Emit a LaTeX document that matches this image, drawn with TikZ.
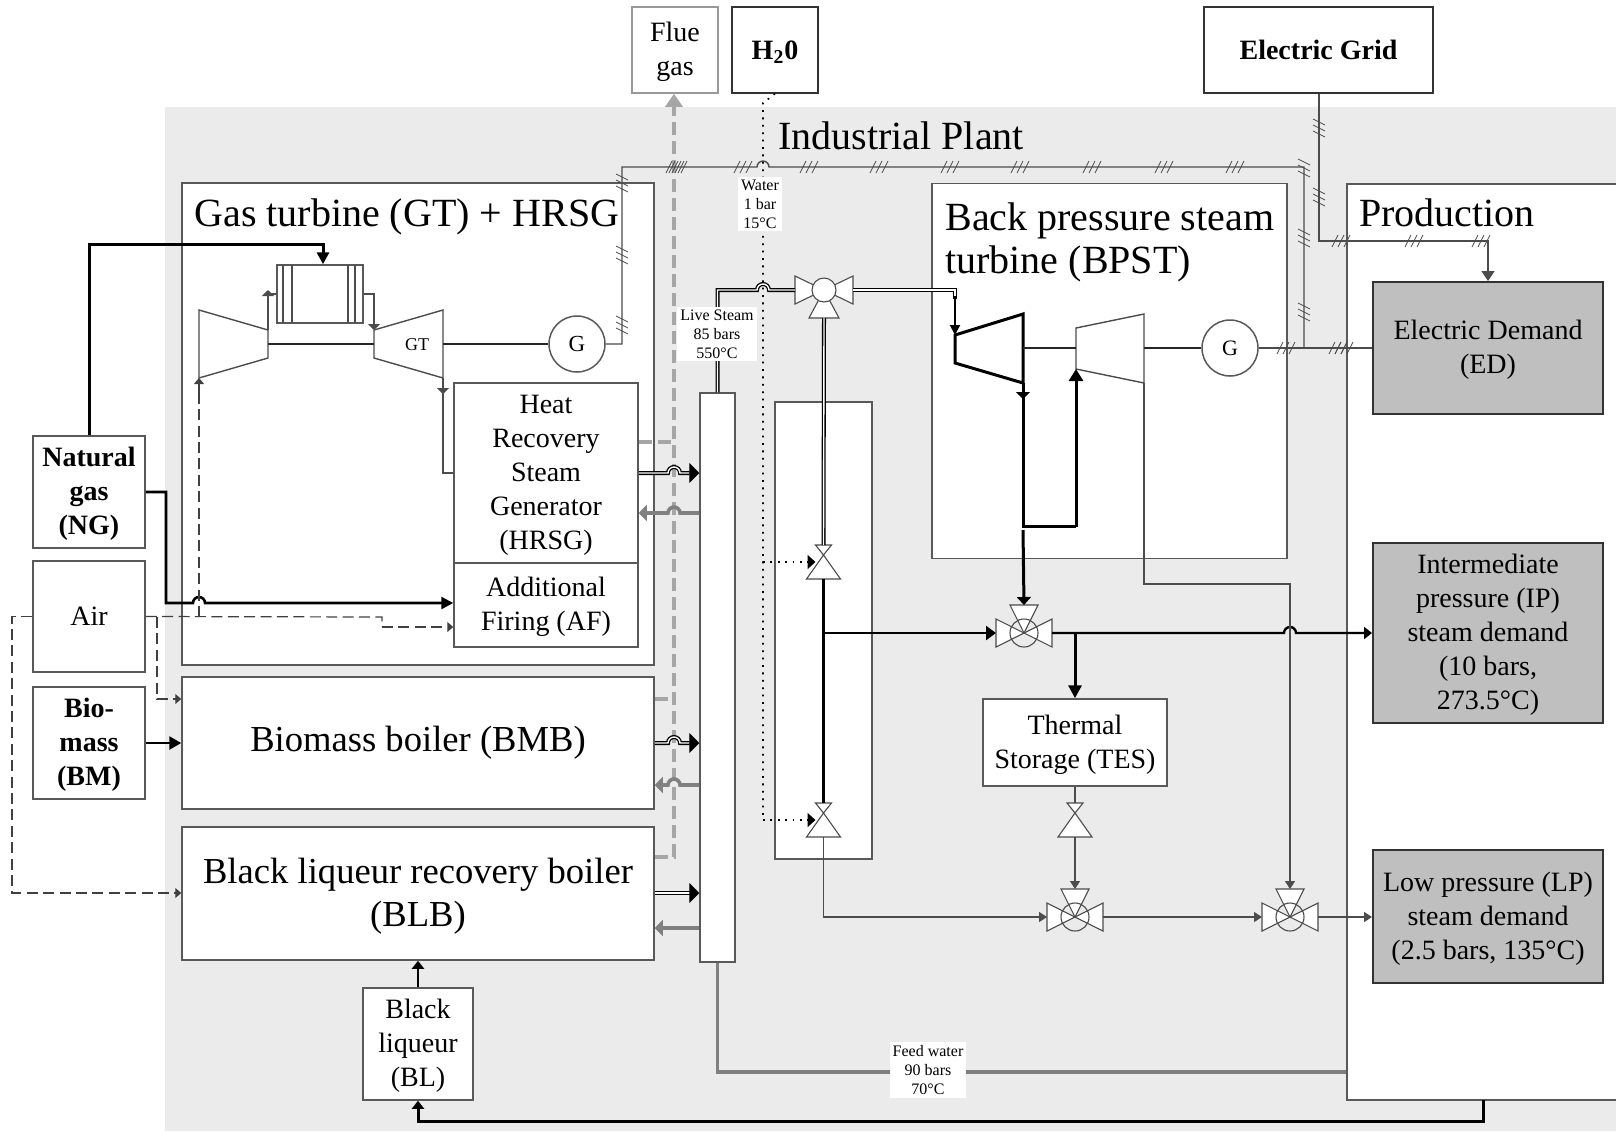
\documentclass[tikz,border=0pt]{standalone}
\usepackage{fontspec}
\setmainfont{Liberation Serif}
\usetikzlibrary{arrows.meta}

% first line of a box sits a little lower
\newcommand{\up}{\rule{0pt}{0.84em}}

\begin{document}
\begin{tikzpicture}[
    x=0.5pt, y=-0.5pt,
    % Styles
    component/.style={
        draw=black!65, line width=0.75pt, fill=#1, inner sep=0pt,
        font=\fontsize{14}{17}\selectfont, align=center,
    },
    component/.default={white},
    demand/.style={
        component=black!25, draw=black!80, line width=1pt,
    },
    grouptitle/.style={font=\fontsize{20}{21.5}\selectfont, align=left, inner sep=0pt},
    lbl/.style={font=\fontsize{8}{9.5}\selectfont, align=center, fill=white, inner sep=1.5pt},
    wire/.style={draw=black!70, line width=0.7pt},
    wirearr/.style={wire, -{Triangle[length=4pt,width=5pt]}},
    shaft/.style={draw=black!85, line width=1pt},
    hot/.style={draw=black, line width=1.5pt},
    hotarr/.style={hot, -{Triangle[length=#1,width=#1]}},
    hotarr/.default={6pt},
    steam/.style={draw=black, line width=0.65pt, double=white, double distance=0.7pt},
    steamarr/.style={steam, -{Triangle[length=5pt,width=10pt]}},
    back/.style={draw=black!50, line width=1.8pt, -{Triangle[length=4pt,width=8pt]}},
    feed/.style={draw=black!50, line width=1.8pt},
    flue/.style={draw=black!35, line width=1.8pt, dash pattern=on 6.5pt off 3pt},
    air/.style={draw=black!75, line width=0.6pt, dash pattern=on 5.5pt off 2.7pt},
    airarr/.style={air, -{Triangle[length=3pt,width=5pt]}},
    water/.style={draw=black, line width=0.8pt, dash pattern=on 0.9pt off 2.8pt},
    waterarr/.style={water, -{Triangle[length=4pt,width=7pt]}},
    valve/.style={draw=black!70, line width=0.55pt, fill=white},
    ticks/.pic={
        \draw[draw=black!70, line width=0.4pt]
            (-9,6) -- (-3,-6) (-3,6) -- (3,-6) (3,6) -- (9,-6);
    },
    valvethree/.pic={
        \draw[valve] (0,0) -- (-28,-14) -- (-28,14) -- cycle;
        \draw[valve] (0,0) -- (28,-14) -- (28,14) -- cycle;
        \draw[valve] (0,0) -- (-14,-28) -- (14,-28) -- cycle;
        \draw[valve, fill=none] (0,0) circle[radius=14];
        \coordinate (-w) at (-28,0);
        \coordinate (-e) at (28,0);
        \coordinate (-n) at (0,-28);
    },
    valvelive/.pic={
        \draw[valve] (0,0) -- (-29,-14) -- (-29,14) -- cycle;
        \draw[valve] (0,0) -- (29,-14) -- (29,14) -- cycle;
        \draw[valve] (0,0) -- (-15,28) -- (15,28) -- cycle;
        \draw[valve] (0,0) circle[radius=12];
        \coordinate (-w) at (-29,0);
        \coordinate (-e) at (29,0);
        \coordinate (-s) at (0,28);
    },
    valvetwo/.pic={
        \draw[valve] (0,0) -- (-8,-10) -- (8,-10) -- cycle;
        \draw[valve] (0,0) -- (-17,24) -- (17,24) -- cycle;
        \coordinate (-n) at (0,-10);
        \coordinate (-s) at (0,24);
        \coordinate (-w) at (-8,7);
    },
]
\useasboundingbox (0,0) rectangle (1616,1131);
\clip (0,0) rectangle (1616,1131);

% ================================================================
% BACKGROUND: INDUSTRIAL PLANT
% ================================================================
\fill[black!8] (165,107) rectangle (1616,1131);
\node[grouptitle, anchor=west] (plant) at (778,136) {Industrial Plant};

% ================================================================
% OUTSIDE BOXES
% ================================================================
\node[component, draw=black!40, minimum width=43pt, minimum height=43pt] (fluebox) at (675,50) {\up Flue\\gas};
\node[component, draw=black!80, minimum width=43pt, minimum height=43pt, font=\fontsize{14}{17}\selectfont\bfseries] (h2o) at (775,50) {\up H\textsubscript{2}0};
\node[component, draw=black!80, minimum width=114.5pt, minimum height=43pt, font=\fontsize{14}{17}\selectfont\bfseries] (grid) at (1318.5,50) {Electric Grid};

\node[component, minimum width=56pt, minimum height=56pt, font=\fontsize{14}{17}\selectfont\bfseries] (ng) at (89,492) {\up Natural\\gas\\(NG)};
\node[component, minimum width=56pt, minimum height=55.5pt] (airbox) at (89,616.5) {Air};
\node[component, minimum width=56pt, minimum height=56pt, font=\fontsize{14}{17}\selectfont\bfseries] (bm) at (89,743) {\up Bio-\\mass\\(BM)};

% ================================================================
% GAS TURBINE + HRSG
% ================================================================
\node[component, minimum width=236pt, minimum height=241pt] (gtbox) at (418,424) {};
\node[grouptitle, anchor=west] (gttitle) at (194,217) {Gas turbine (GT) + HRSG};
\node[component, minimum width=92pt, minimum height=90pt] (hrsg) at (546,473) {\up Heat\\Recovery\\Steam\\Generator\\(HRSG)};
\node[component, minimum width=92pt, minimum height=42pt] (af) at (546,605) {\up Additional\\Firing (AF)};

% combustion chamber
\node[component, minimum width=43pt, minimum height=29pt] (cc) at (320,294) {};
\draw[wire] (283,265) -- (283,323) (292,265) -- (292,323)
            (348,265) -- (348,323) (355,265) -- (355,323);

% compressor and gas turbine
\draw[wire, fill=white] (199,310) coordinate (compin) -- (268,330) coordinate (compout)
    -- (268,358) -- (199,378) coordinate (compair) -- cycle;
\draw[wire, fill=white] (374,330) coordinate (gtin) -- (443,310) -- (443,378) coordinate (gtout)
    -- (374,358) -- cycle;
\node[font=\fontsize{9}{11}\selectfont, inner sep=0pt] (gtlabel) at (417,345) {GT};
\node[component, circle, minimum size=28pt, font=\fontsize{11.5}{14}\selectfont] (gengt) at (577,344) {G};

\draw[shaft] (268,344) -- (374,344);
\draw[shaft] (443,344) -- (gengt.west);
\draw[wirearr, -{Triangle[length=3pt,width=6pt]}] (compout) -- (268,290);
\draw[wire] (268,294) -- (cc.west);
\draw[wirearr, -{Triangle[length=3pt,width=6pt]}] (cc.east) -| (gtin);
\draw[wirearr, -{Triangle[length=3pt,width=6pt]}] (gtout) -- (443,394);
\draw[wire] (443,390) |- (hrsg.west);

% ================================================================
% BOILERS
% ================================================================
\node[component, minimum width=236pt, minimum height=66pt, font=\fontsize{18.3}{21.5}\selectfont] (bmb) at (418,743) {Biomass boiler (BMB)};
\node[component, minimum width=236pt, minimum height=66.5pt, font=\fontsize{18.3}{21.5}\selectfont] (blb) at (418,893.5) {\up Black liqueur recovery boiler\\(BLB)};
\node[component, minimum width=55pt, minimum height=56pt] (bl) at (418,1044) {\up Black\\liqueur\\(BL)};

% ================================================================
% PRODUCTION
% ================================================================
\node[component, minimum width=147pt, minimum height=458pt] (prod) at (1494,642) {};
\node[grouptitle, anchor=west] (prodtitle) at (1359,213) {Production};
\node[demand, minimum width=115pt, minimum height=66pt] (ed) at (1488,348) {\up Electric Demand\\(ED)};
\node[demand, minimum width=115pt, minimum height=90pt] (ip) at (1488,633) {\up Intermediate\\pressure (IP)\\steam demand\\(10 bars,\\273.5°C)};
\node[demand, minimum width=115pt, minimum height=66.5pt] (lp) at (1488,916.5) {\up Low pressure (LP)\\steam demand\\(2.5 bars, 135°C)};

% ================================================================
% BACK PRESSURE STEAM TURBINE
% ================================================================
\node[component, minimum width=177.5pt, minimum height=187.5pt] (bpst) at (1109.5,371) {};
\node[grouptitle, anchor=north west] (bpsttitle) at (945,202) {Back pressure steam\\turbine (BPST)};
\node[component, circle, minimum size=28pt, font=\fontsize{11}{14}\selectfont] (gengrid) at (1230,348) {G};

\draw[hot, fill=white] (955,335) coordinate (hpin) -- (1023,314) -- (1023,383) coordinate (hpout)
    -- (955,363) -- cycle;
\draw[wire, fill=white] (1076,328) -- (1144,314) -- (1144,383) coordinate (lpout)
    -- (1076,369) coordinate (lpin) -- cycle;
\draw[shaft] (1023,348) -- (1076,348);
\draw[shaft] (1144,348) -- (gengrid.west);

% ================================================================
% HEADER AND STEAM COLUMN
% ================================================================
\node[component, minimum width=48.5pt, minimum height=228.5pt] (col) at (823.5,630.5) {};
\node[component, minimum width=17.5pt, minimum height=284.5pt] (hdr) at (717.5,677.5) {};
\node[component, minimum width=92pt, minimum height=43.5pt] (tes) at (1075,742.5) {\up Thermal\\Storage (TES)};

% ================================================================
% FLUE GAS
% ================================================================
\draw[flue] (hrsg.east|-0,442) -- (674,442);
\draw[flue] (bmb.east|-0,699) -- (674,699);
\draw[flue, -{Triangle[length=6.5pt,width=8.5pt]}] (blb.east|-0,857) -| (fluebox.south-|674,0);

% ================================================================
% VALVES
% ================================================================
\pic (vlive) at (824,290) {valvelive};
\pic (vhp) at (823.5,555) {valvetwo};
\pic (vcold) at (823.5,813) {valvetwo};
\pic (vtes) at (1075,813) {valvetwo};
\pic (vip) at (1024,633) {valvethree};
\pic (vlow) at (1075,917) {valvethree};
\pic (vlpb) at (1290,917) {valvethree};

% ================================================================
% ELECTRICITY
% ================================================================
\coordinate (busnw) at (622,167);
\coordinate (busne) at (1304,167);
\coordinate (gridturn) at (1319,241);

\draw[wire] (gengt.east) -| (busnw) -- (757,167) arc[start angle=180, end angle=360, radius=6] -- (busne) -- (busne|-gengrid);
\draw[wire] (gengrid.east) -- (ed.west);
\draw[wire] (grid.south-|gridturn) -- (gridturn) -| (1488,260);
\draw[wirearr, -{Triangle[length=5pt,width=6.5pt]}] (1488,241) -- (ed.north);

\path pic at (675,167) {ticks} pic at (678,167) {ticks} pic at (743,167) {ticks} pic at (809,167) {ticks}
      pic at (879,167) {ticks} pic at (950,167) {ticks} pic at (1020,167) {ticks}
      pic at (1092,167) {ticks} pic at (1164,167) {ticks} pic at (1235,167) {ticks}
      pic[rotate=90] at (622,183) {ticks} pic[rotate=90] at (622,255) {ticks} pic[rotate=90] at (622,325) {ticks}
      pic[rotate=90] at (1304,168) {ticks} pic[rotate=90] at (1304,238) {ticks} pic[rotate=90] at (1304,312) {ticks}
      pic[rotate=90] at (1319,128) {ticks} pic[rotate=90] at (1319,197) {ticks}
      pic at (1341,241) {ticks} pic at (1414,241) {ticks} pic at (1481,241) {ticks}
      pic at (1286,348) {ticks} pic at (1338,348) {ticks} pic at (1344,348) {ticks};

% ================================================================
% FUEL AND AIR
% ================================================================
\draw[hot] (ng.north) |- (323,244);
\draw[hotarr] (323,243) -- (cc.north-|323,0);
\draw[hot, -{Triangle[length=6pt,width=6pt]}, line width=1.3pt] (ng.east) -| (166,603) -- (193,603)
    arc[start angle=180, end angle=360, radius=6] -- (af.west|-0,603);
\draw[hot, -{Triangle[length=6pt,width=6.5pt]}, line width=1.3pt] (bm.east|-0,743) -- (bmb.west|-0,743);
\draw[hot, -{Triangle[length=4pt,width=6pt]}, line width=1pt] (bl.north) -- (bl.north|-blb.south);
\draw[hot, -{Triangle[length=4pt,width=6pt]}, line width=1.5pt] (1483,1100) |- (418,1121) -- (bl.south);

\draw[air] (airbox.east) -- (382,617) -- (382,627);
\draw[airarr] (382,627) -- (af.west|-0,627);
\draw[airarr, solid] (199,400) -- (compair);
\draw[air] (199,617) -- (199,400);
\draw[airarr] (157,617) |- (bmb.west|-0,699);
\draw[airarr] (airbox.west) -| (12,893) -- (blb.west|-0,893);

% ================================================================
% STEAM AND WATER PIPES
% ================================================================
% Boilers -> Header
\draw[steamarr] (hrsg.east|-0,473) -- (668,473) arc[start angle=180, end angle=360, radius=6] -- (hdr.west|-0,473);
\draw[steamarr] (bmb.east|-0,743) -- (668,743) arc[start angle=180, end angle=360, radius=6] -- (hdr.west|-0,743);
\draw[steamarr] (blb.east|-0,893) -- (hdr.west|-0,893);

% Header -> Boilers
\draw[back] (hdr.west|-0,513) -- (680,513) arc[start angle=0, end angle=-180, radius=6] -- (hrsg.east|-0,513);
\draw[back] (hdr.west|-0,785) -- (680,785) arc[start angle=0, end angle=-180, radius=6] -- (bmb.east|-0,785);
\draw[back] (hdr.west|-0,928) -- (blb.east|-0,928);

% Feed water
\draw[feed] (hdr.south) |- (prod.west|-0,1072);

% Water
\draw[water] (h2o.south) -- (763,103) -- (763,819);
\draw[waterarr] (763,562) -- (vhp-w);
\draw[waterarr] (763,820) -- (vcold-w);

% Live steam
\draw[steam] (hdr.north) |- (757,290) arc[start angle=180, end angle=360, radius=6] -- (vlive-w);
\draw[steam] (vlive-e) -| (955,299);
\draw[hotarr=5pt, line width=1pt] (955,296) -- (hpin);
\draw[steam] (vlive-s) -- (vhp-n);

% High pressure line
\draw[hot] (vhp-s) -- (vcold-n);
\draw[hot, line width=1.2pt, -{Triangle[length=5pt,width=7pt]}] (823,633) -- (vip-w);
\draw[hot, line width=1.2pt, -{Triangle[length=4pt,width=6pt]}] (vip-e) -- (1284,633)
    arc[start angle=180, end angle=360, radius=6] -- (ip.west);
\draw[hotarr=6.5pt] (1075,633) -- (tes.north);

% Turbine exhaust
\draw[hot, -{Triangle[length=3.5pt,width=7pt]}] (hpout) -- (1023,399);
\draw[hot] (1023,395) -- (1023,526) -- (1076,526);
\draw[hot, -{Triangle[length=6pt,width=7pt]}] (1076,527) -- (lpin);
\draw[hot, -{Triangle[length=4pt,width=7pt]}] (1023,530) -- (vip-n);

% Low pressure line
\draw[wirearr] (lpout) |- (1290,584) -- (vlpb-n);
\draw[wire] (tes.south) -- (vtes-n);
\draw[wirearr] (vtes-s) -- (vlow-n);
\draw[wirearr] (vcold-s) |- (vlow-w);
\draw[wirearr] (vlow-e) -- (vlpb-w);
\draw[wirearr] (vlpb-e) -- (lp.west|-0,917);

% ================================================================
% PIPE LABELS
% ================================================================
\node[lbl] (waterlbl) at (760,204) {Water\\1 bar\\15°C};
\node[lbl] (livelbl) at (717,334) {Live Steam\\85 bars\\550°C};
\node[lbl] (feedlbl) at (928,1070) {Feed water\\90 bars\\70°C};

\end{tikzpicture}
\end{document}
